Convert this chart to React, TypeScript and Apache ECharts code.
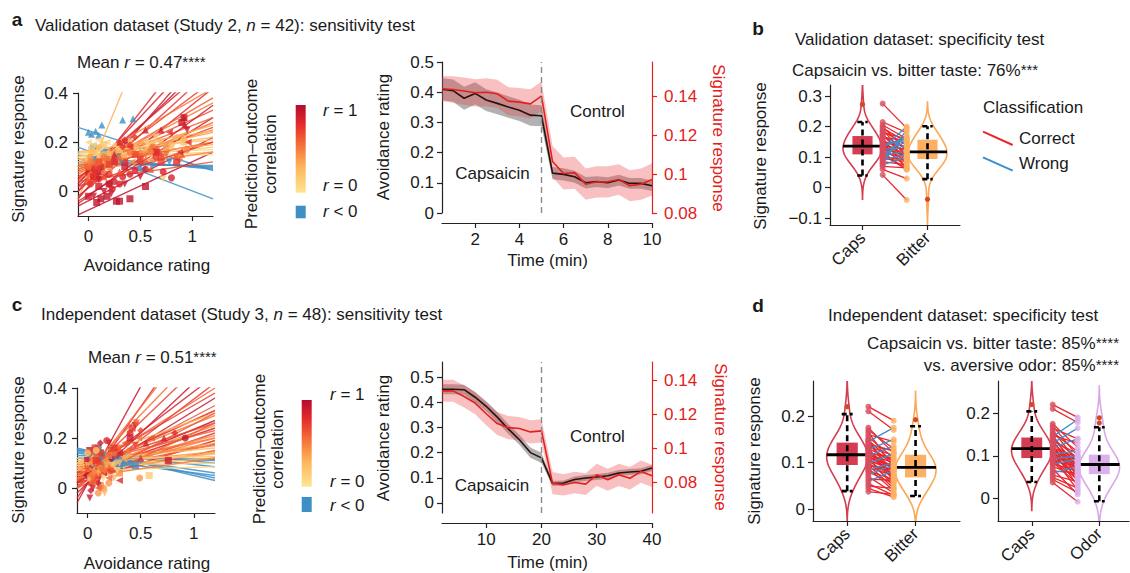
import React, { useEffect, useRef } from "react";
import * as echarts from "echarts";

const FONT = '"Liberation Sans", Arial, Helvetica, sans-serif';
const INK = "#1a1a1a";
const RED = "#e3211c";
const NEG_BLUE = "#3d8fc6";

// Subject fits, Study 2: [r, y at x = -0.1, y at x = 1.2]
const linesA: number[][] = [
  [-0.3, 0.26, 0.085], [-0.35, 0.18, -0.03], [-0.1, 0.13, 0.095], [-0.05, 0.12, 0.1],
  [-0.15, 0.145, 0.09], [-0.08, 0.11, 0.105], [0.3, -0.033, 1.3], [0.95, -0.095, 0.16],
  [0.9, -0.06, 0.22], [0.85, -0.04, 0.3], [0.8, -0.02, 0.42], [0.75, 0.0, 0.5],
  [0.9, 0.02, 0.55], [0.7, 0.04, 0.45], [0.6, 0.06, 0.38], [0.55, 0.05, 0.28],
  [0.65, 0.08, 0.33], [0.45, 0.09, 0.25], [0.3, 0.1, 0.2], [0.2, 0.12, 0.18],
  [0.15, 0.13, 0.16], [0.25, 0.14, 0.22], [0.35, 0.11, 0.27], [0.5, 0.07, 0.36],
  [0.85, 0.03, 0.62], [0.8, 0.0, 0.7], [0.9, -0.03, 0.6], [0.4, 0.12, 0.24],
  [0.1, 0.15, 0.17], [0.05, 0.14, 0.15], [0.6, 0.09, 0.3], [0.7, 0.06, 0.26],
  [0.55, 0.1, 0.2], [0.75, 0.02, 0.2], [0.45, 0.08, 0.16], [0.35, 0.13, 0.19],
  [0.65, 0.04, 0.12], [0.9, -0.05, 0.35], [0.2, 0.155, 0.21], [0.5, 0.1, 0.42],
  [0.8, 0.05, 0.52], [0.3, 0.16, 0.245],
];

// Single trials, Study 2: [avoidance rating, signature response, subject]
const pointsA: number[][] = [
  [0.0, 0.24, 0], [0.03, 0.232, 0], [0.07, 0.245, 0], [0.1, 0.228, 0], [0.13, 0.27, 0], [0.33, 0.29, 0], [0.43, 0.295, 0],
  [0.05, 0.13, 2], [0.15, 0.14, 2], [0.22, 0.12, 2], [0.5, 0.11, 2], [0.62, 0.1, 2], [0.78, 0.12, 2],
  [0.02, 0.1, 4], [0.1, 0.09, 4], [0.3, 0.12, 4], [0.52, 0.09, 4], [0.48, 0.095, 4],
  [0.05, 0.18, 1], [0.15, 0.16, 1], [0.28, 0.14, 1],
  [0.0, 0.2, 28], [0.05, 0.19, 28], [0.1, 0.21, 28], [0.18, 0.2, 28], [0.25, 0.19, 28], [0.55, 0.2, 28],
  [0.02, 0.15, 29], [0.08, 0.16, 29], [0.12, 0.175, 29], [0.4, 0.16, 29],
  [0.0, 0.12, 20], [0.1, 0.14, 20], [0.2, 0.15, 20], [0.6, 0.18, 20], [0.72, 0.05, 20],
  [0.03, 0.17, 19], [0.15, 0.19, 19], [0.3, 0.17, 19], [0.62, 0.19, 19], [0.92, 0.2, 19],
  [0.0, 0.11, 18], [0.08, 0.12, 18], [0.2, 0.13, 18], [0.35, 0.15, 18], [0.55, 0.17, 18],
  [0.05, 0.16, 21], [0.15, 0.15, 21], [0.45, 0.18, 21], [0.8, 0.19, 21], [0.92, 0.21, 21],
  [0.0, 0.08, 22], [0.12, 0.1, 22], [0.3, 0.14, 22], [0.5, 0.2, 22],
  [0.02, 0.14, 27], [0.25, 0.16, 27], [0.6, 0.17, 27], [0.75, 0.18, 27],
  [0.1, 0.17, 38], [0.4, 0.2, 38], [0.65, 0.22, 38],
  [0.1, 0.18, 41], [0.3, 0.2, 41], [0.7, 0.2, 41], [0.85, 0.22, 41],
  [0.0, 0.06, 17], [0.15, 0.11, 17], [0.28, 0.12, 17], [0.5, 0.16, 17],
  [0.05, 0.07, 34], [0.2, 0.09, 34], [0.42, 0.12, 34], [0.6, 0.13, 34],
  [0.05, 0.1, 6], [0.12, 0.13, 6], [0.2, 0.15, 6],
  [0.08, -0.045, 7], [0.12, -0.03, 7], [0.18, -0.02, 7], [0.27, -0.04, 7], [0.3, -0.04, 7], [0.4, -0.03, 7], [0.55, 0.02, 7],
  [0.05, -0.02, 8], [0.15, 0.0, 8], [0.22, -0.01, 8], [0.35, 0.03, 8], [0.5, 0.06, 8],
  [0.2, 0.03, 9], [0.25, 0.04, 9], [0.3, 0.03, 9], [0.33, 0.06, 9], [0.4, 0.07, 9], [0.45, 0.085, 9], [0.55, 0.09, 9], [0.72, 0.08, 9], [0.8, 0.055, 9], [0.23, 0.01, 9],
  [0.0, 0.04, 36], [0.05, 0.05, 36], [0.15, 0.06, 36], [0.3, 0.08, 36], [0.6, 0.09, 36],
  [0.02, 0.03, 33], [0.1, 0.05, 33], [0.2, 0.07, 33], [0.5, 0.12, 33], [0.65, 0.14, 33],
  [0.0, -0.02, 37], [0.1, 0.02, 37], [0.2, 0.03, 37], [0.35, 0.1, 37], [0.9, 0.28, 37], [0.92, 0.3, 37],
  [0.0, 0.09, 12], [0.05, 0.1, 12], [0.1, 0.08, 12], [0.3, 0.2, 12], [0.7, 0.25, 12], [0.92, 0.3, 12],
  [0.0, 0.08, 24], [0.12, 0.09, 24], [0.25, 0.15, 24], [0.55, 0.25, 24], [0.93, 0.27, 24],
  [0.03, 0.06, 26], [0.1, 0.05, 26], [0.35, 0.2, 26], [0.95, 0.25, 26],
  [0.02, 0.09, 10], [0.15, 0.07, 10], [0.4, 0.18, 10], [0.78, 0.24, 10], [0.96, 0.2, 10],
  [0.3, 0.2, 11], [0.35, 0.21, 11], [0.4, 0.19, 11], [0.33, 0.18, 11], [0.45, 0.22, 11],
  [0.0, 0.1, 13], [0.1, 0.12, 13], [0.45, 0.15, 13], [0.66, 0.16, 13], [0.7, 0.14, 13],
  [0.05, 0.11, 14], [0.18, 0.13, 14], [0.5, 0.14, 14], [0.75, 0.15, 14], [0.85, 0.14, 14],
  [0.0, 0.1, 15], [0.2, 0.12, 15], [0.4, 0.16, 15], [0.62, 0.18, 15],
  [0.1, 0.11, 16], [0.25, 0.13, 16], [0.45, 0.15, 16], [0.68, 0.15, 16],
  [0.02, 0.07, 23], [0.15, 0.08, 23], [0.55, 0.15, 23], [0.88, 0.13, 23],
  [0.05, 0.06, 25], [0.25, 0.12, 25], [0.65, 0.16, 25], [0.85, 0.12, 25],
  [0.1, 0.12, 30], [0.3, 0.14, 30], [0.55, 0.13, 30], [0.9, 0.15, 30],
  [0.08, 0.09, 31], [0.2, 0.11, 31], [0.5, 0.13, 31], [0.7, 0.12, 31],
  [0.02, 0.12, 39], [0.15, 0.14, 39], [0.6, 0.16, 39], [0.95, 0.17, 39],
  [0.06, 0.08, 40], [0.12, 0.1, 40], [0.35, 0.12, 40], [0.88, 0.16, 40],
];

// Subject fits, Study 3: [r, y at x = -0.1, y at x = 1.2]
const linesC: number[][] = [
  [-0.2, 0.15, 0.1], [-0.3, 0.14, 0.06], [-0.4, 0.16, 0.03], [-0.1, 0.13, 0.11],
  [-0.25, 0.12, 0.05], [-0.15, 0.145, 0.085], [-0.05, 0.12, 0.115], [-0.35, 0.155, 0.04],
  [0.9, -0.06, 0.95], [0.8, -0.04, 0.75], [0.55, 0.0, 0.7], [0.7, 0.02, 0.55],
  [0.85, 0.03, 0.45], [0.75, 0.0, 0.42], [0.6, 0.05, 0.4], [0.95, 0.02, 0.36],
  [0.65, 0.04, 0.33], [0.8, 0.06, 0.31], [0.5, 0.07, 0.29], [0.9, 0.04, 0.27],
  [0.7, 0.08, 0.26], [0.4, 0.06, 0.25], [0.85, 0.05, 0.24], [0.6, 0.09, 0.23],
  [0.75, 0.03, 0.22], [0.45, 0.07, 0.21], [0.3, 0.1, 0.3], [0.55, 0.08, 0.2],
  [0.8, 0.02, 0.19], [0.35, 0.09, 0.18], [0.65, 0.06, 0.175], [0.5, 0.1, 0.17],
  [0.25, 0.11, 0.16], [0.7, 0.04, 0.15], [0.4, 0.09, 0.145], [0.2, 0.1, 0.135],
  [0.3, 0.08, 0.12], [0.15, 0.09, 0.1], [0.1, 0.07, 0.085], [0.45, 0.05, 0.2],
  [0.6, 0.0, 0.26], [0.9, -0.02, 0.5], [0.55, 0.03, 0.6], [0.75, 0.06, 0.38],
  [0.35, 0.07, 0.14], [0.2, 0.12, 0.125], [0.65, 0.01, 0.3], [0.5, 0.04, 0.12],
];

// Single trials, Study 3: [avoidance rating, signature response, subject]
const pointsC: number[][] = [
  [0.03, 0.1, 0], [0.08, 0.12, 0], [0.15, 0.11, 0], [0.25, 0.12, 0], [0.35, 0.1, 0],
  [0.05, 0.13, 1], [0.12, 0.14, 1], [0.2, 0.11, 1], [0.3, 0.09, 1], [0.45, 0.09, 1],
  [0.02, 0.15, 2], [0.1, 0.13, 2], [0.18, 0.12, 2], [0.28, 0.13, 2],
  [0.06, 0.09, 3], [0.14, 0.1, 3], [0.22, 0.13, 3], [0.4, 0.1, 3],
  [0.0, 0.12, 4], [0.09, 0.11, 4], [0.16, 0.08, 4], [0.24, 0.1, 4],
  [0.04, 0.14, 5], [0.13, 0.12, 5], [0.3, 0.12, 5], [0.5, 0.11, 5],
  [0.07, 0.1, 6], [0.2, 0.14, 6], [0.33, 0.11, 6],
  [0.1, 0.16, 7], [0.17, 0.13, 7], [0.26, 0.11, 7],
  [0.02, -0.04, 8], [0.05, 0.0, 8], [0.1, 0.03, 8], [0.2, 0.18, 8], [0.45, 0.25, 8],
  [0.03, 0.02, 9], [0.08, 0.05, 9], [0.18, 0.19, 9], [0.4, 0.22, 9],
  [0.1, 0.08, 10], [0.15, 0.1, 10], [0.25, 0.16, 10], [0.48, 0.2, 10],
  [0.05, 0.06, 11], [0.12, 0.08, 11], [0.3, 0.15, 11], [0.5, 0.23, 11],
  [0.0, 0.1, 12], [0.06, 0.12, 12], [0.2, 0.14, 12], [0.55, 0.18, 12], [0.72, 0.2, 12],
  [0.02, 0.15, 13], [0.07, 0.16, 13], [0.12, 0.14, 13], [0.42, 0.24, 13],
  [0.04, 0.13, 14], [0.1, 0.15, 14], [0.3, 0.16, 14], [0.46, 0.26, 14],
  [0.0, 0.05, 15], [0.08, 0.07, 15], [0.22, 0.12, 15], [0.92, 0.2, 15],
  [0.05, 0.1, 16], [0.15, 0.12, 16], [0.35, 0.18, 16], [0.6, 0.2, 16],
  [0.02, 0.08, 17], [0.1, 0.11, 17], [0.28, 0.13, 17], [0.82, 0.22, 17],
  [0.08, 0.09, 18], [0.18, 0.1, 18], [0.38, 0.15, 18],
  [0.0, 0.11, 19], [0.12, 0.07, 19], [0.4, 0.2, 19], [0.76, 0.11, 19],
  [0.1, 0.13, 20], [0.22, 0.15, 20], [0.45, 0.17, 20],
  [0.1, -0.02, 21], [0.15, 0.0, 21], [0.2, 0.02, 21], [0.49, 0.04, 21],
  [0.05, 0.03, 25], [0.12, 0.01, 25], [0.3, 0.06, 25],
  [0.08, 0.05, 26], [0.16, -0.02, 26], [0.25, 0.04, 26],
  [0.02, 0.07, 29], [0.1, 0.09, 29], [0.2, 0.06, 29], [0.35, 0.12, 29],
  [0.0, 0.09, 32], [0.14, 0.05, 32], [0.3, 0.1, 32],
  [0.05, 0.12, 35], [0.18, 0.08, 35], [0.26, 0.1, 35],
  [0.03, 0.04, 37], [0.12, 0.06, 37], [0.22, 0.09, 37], [0.58, 0.05, 37],
  [0.07, 0.02, 38], [0.15, 0.04, 38], [0.28, 0.07, 38],
  [0.02, 0.06, 22], [0.1, 0.09, 22], [0.3, 0.14, 22],
  [0.04, 0.1, 23], [0.18, 0.12, 23],
  [0.06, 0.04, 24], [0.2, 0.08, 24], [0.5, 0.12, 24],
  [0.08, 0.12, 27], [0.25, 0.14, 27],
  [0.03, 0.05, 28], [0.15, 0.06, 28], [0.3, 0.03, 28],
  [0.0, 0.08, 30], [0.12, 0.1, 30],
  [0.05, 0.11, 31], [0.2, 0.13, 31],
  [0.1, 0.05, 33], [0.22, 0.07, 33],
  [0.02, 0.1, 34], [0.16, 0.11, 34],
  [0.06, 0.07, 36], [0.2, 0.1, 36],
  [0.04, 0.05, 39], [0.12, 0.08, 39],
  [0.1, 0.0, 40], [0.2, 0.04, 40],
  [0.03, -0.01, 41], [0.1, 0.02, 41], [0.12, 0.18, 41],
  [0.05, 0.04, 42], [0.2, 0.09, 42],
  [0.08, 0.11, 43], [0.25, 0.16, 43],
  [0.1, 0.06, 44], [0.18, 0.09, 44],
  [0.0, 0.14, 45], [0.08, 0.15, 45],
  [0.04, 0.02, 46], [0.14, 0.07, 46],
  [0.06, 0.06, 47], [0.16, 0.07, 47],
];

// Time courses, Study 2 (min)
const timeA = [0.5, 1, 1.5, 2, 2.5, 3, 3.5, 4, 4.5, 5, 5.5, 6, 6.5, 7, 7.5, 8, 8.5, 9, 9.5, 10];
const avoidA = [0.41, 0.405, 0.38, 0.396, 0.374, 0.363, 0.351, 0.34, 0.324, 0.322, 0.132, 0.128, 0.12, 0.1, 0.104, 0.1, 0.109, 0.098, 0.098, 0.09];
const avoidSeA = [0.037, 0.037, 0.038, 0.037, 0.036, 0.036, 0.036, 0.035, 0.035, 0.035, 0.02, 0.02, 0.02, 0.019, 0.018, 0.018, 0.018, 0.018, 0.018, 0.017];
const sigA = [0.1438, 0.1434, 0.1426, 0.1417, 0.142, 0.1412, 0.1374, 0.1369, 0.136, 0.14, 0.1064, 0.1003, 0.1007, 0.0948, 0.096, 0.096, 0.0972, 0.094, 0.0948, 0.0972];
const sigSeA = [0.0065, 0.0068, 0.007, 0.007, 0.0072, 0.0072, 0.0072, 0.0073, 0.0075, 0.0075, 0.008, 0.0082, 0.0082, 0.008, 0.008, 0.008, 0.0078, 0.008, 0.008, 0.0082];

// Time courses, Study 3 (min)
const timeC = [2, 4, 6, 8, 10, 12, 14, 16, 18, 20, 22, 24, 26, 28, 30, 32, 34, 36, 38, 40];
const avoidC = [0.452, 0.452, 0.45, 0.42, 0.384, 0.341, 0.294, 0.251, 0.2, 0.179, 0.077, 0.079, 0.093, 0.099, 0.103, 0.108, 0.119, 0.123, 0.126, 0.139];
const avoidSeC = [0.02, 0.02, 0.02, 0.02, 0.02, 0.02, 0.02, 0.02, 0.02, 0.02, 0.01, 0.01, 0.012, 0.012, 0.012, 0.012, 0.012, 0.012, 0.012, 0.012];
const sigC = [0.134, 0.134, 0.1307, 0.1268, 0.1205, 0.1147, 0.1123, 0.1118, 0.1098, 0.1104, 0.0796, 0.0786, 0.08, 0.079, 0.0845, 0.0816, 0.0845, 0.0825, 0.0864, 0.0839];
const sigSeC = [0.0065, 0.0065, 0.0065, 0.0066, 0.0068, 0.0068, 0.0068, 0.0068, 0.0068, 0.0068, 0.0065, 0.0063, 0.0063, 0.0064, 0.0065, 0.0065, 0.0066, 0.0066, 0.0066, 0.0066];

// Per-subject signature responses, Study 2
const capsB = [0.275, 0.215, 0.205, 0.2, 0.195, 0.19, 0.185, 0.18, 0.175, 0.17, 0.17, 0.165, 0.16, 0.155, 0.15, 0.148, 0.145, 0.14, 0.138, 0.135, 0.135, 0.132, 0.13, 0.128, 0.125, 0.12, 0.118, 0.115, 0.112, 0.11, 0.108, 0.105, 0.1, 0.098, 0.095, 0.09, 0.085, 0.08, 0.075, 0.07, 0.06, 0.042];
const bitterB = [0.195, 0.18, 0.16, 0.12, 0.15, 0.1, 0.14, 0.16, 0.09, 0.13, 0.11, 0.155, 0.06, 0.12, 0.1, 0.135, 0.08, 0.155, 0.125, 0.1, 0.165, 0.115, 0.07, 0.2, 0.11, 0.15, 0.095, 0.06, 0.14, 0.105, 0.06, 0.12, 0.09, 0.17, 0.085, 0.11, 0.075, 0.19, 0.1, 0.065, 0.03, -0.04];

// Per-subject signature responses, Study 3
const capsD = [0.22, 0.21, 0.175, 0.17, 0.165, 0.16, 0.155, 0.15, 0.148, 0.145, 0.143, 0.14, 0.138, 0.135, 0.132, 0.13, 0.128, 0.125, 0.122, 0.12, 0.118, 0.117, 0.116, 0.115, 0.113, 0.11, 0.108, 0.106, 0.104, 0.102, 0.1, 0.098, 0.096, 0.095, 0.093, 0.09, 0.088, 0.085, 0.082, 0.08, 0.075, 0.07, 0.065, 0.06, 0.055, 0.05, 0.045, 0.038];
const bitterD = [0.19, 0.17, 0.12, 0.13, 0.09, 0.145, 0.11, 0.065, 0.1, 0.175, 0.08, 0.125, 0.095, 0.115, 0.06, 0.105, 0.15, 0.085, 0.07, 0.11, 0.09, 0.1, 0.075, 0.135, 0.088, 0.05, 0.095, 0.082, 0.068, 0.092, 0.058, 0.12, 0.078, 0.045, 0.086, 0.072, 0.04, 0.1, 0.064, 0.055, 0.095, 0.035, 0.062, 0.083, 0.03, 0.045, 0.026, 0.032];
const odorD = [0.19, 0.178, 0.12, 0.1, 0.14, 0.085, 0.11, 0.06, 0.13, 0.185, 0.075, 0.095, 0.05, 0.105, 0.068, 0.165, 0.088, 0.04, 0.08, 0.14, 0.07, 0.098, 0.058, 0.082, 0.03, 0.09, 0.066, 0.078, 0.112, 0.05, 0.072, 0.02, 0.085, 0.062, 0.1, 0.045, 0.076, 0.035, 0.064, 0.093, 0.055, 0.01, 0.06, 0.075, 0.04, 0.025, 0.015, -0.007];

// Box summaries: [lower whisker, Q1, median, Q3, upper whisker]
const boxCapsB = [0.04, 0.109, 0.136, 0.169, 0.215];
const outCapsB = [0.273];
const boxBitterB = [0.028, 0.094, 0.117, 0.157, 0.201];
const outBitterB = [-0.038];
const boxCapsD = [0.039, 0.095, 0.117, 0.143, 0.204];
const outCapsD = [0.22];
const boxBitterD = [0.0285, 0.0685, 0.09, 0.117, 0.178];
const outBitterD = [0.192];
const boxOdorD = [-0.006, 0.0575, 0.08, 0.103, 0.167];
const outOdorD = [0.189, 0.177];

const CAPS_COLOR = "#d43d51";
const BITTER_COLOR = "#fdb063";
const ODOR_COLOR = "#dcb0ec";
const CORRECT = "#e8262c";
const WRONG = "#3b8fcf";

const R_STOPS: [number, string][] = [
  [0, "#fee593"], [0.3, "#fdb35a"], [0.55, "#f46d36"], [0.78, "#e52b2b"], [1, "#b40c2e"],
];
function hex(c: string) {
  return [1, 3, 5].map((i) => parseInt(c.slice(i, i + 2), 16));
}
function rColor(r: number) {
  if (r < 0) return NEG_BLUE;
  for (let i = 1; i < R_STOPS.length; i++) {
    const [p1, c1] = R_STOPS[i];
    const [p0, c0] = R_STOPS[i - 1];
    if (r <= p1) {
      const t = (r - p0) / (p1 - p0);
      const a = hex(c0), b = hex(c1);
      const m = a.map((v, k) => Math.round(v + (b[k] - v) * t));
      return `rgb(${m[0]},${m[1]},${m[2]})`;
    }
  }
  return R_STOPS[R_STOPS.length - 1][1];
}

const SHAPES = ["triangle", "rect", "triangleDown", "circle", "triangleLeft", "diamond"];

const fmt = (v: number) => String(parseFloat(v.toFixed(3))).replace("-", "\u2212");

function xAxis(grid: number, min: number, max: number, ticks: number[], extra: any = {}) {
  const { labels, rotate, margin, offset } = extra;
  return {
    type: "value", gridIndex: grid, min, max, offset: offset || 0,
    axisLine: { show: true, onZero: false, lineStyle: { color: "#222", width: 1.2 } },
    axisTick: { show: true, length: 5, customValues: ticks, lineStyle: { color: "#222", width: 1.2 } },
    axisLabel: {
      customValues: ticks, fontSize: 17, fontFamily: FONT, color: INK, margin: margin ?? 8,
      rotate: rotate || 0,
      formatter: labels ? (v: number) => labels[Math.round(v) - 1] : fmt,
    },
    splitLine: { show: false },
  };
}
function yAxis(grid: number, min: number, max: number, ticks: number[], extra: any = {}) {
  const color = extra.color || "#222";
  return {
    type: "value", gridIndex: grid, min, max, position: extra.position || "left",
    axisLine: { show: true, onZero: false, lineStyle: { color, width: 1.2 } },
    axisTick: { show: true, length: 5, customValues: ticks, lineStyle: { color, width: 1.2 } },
    axisLabel: {
      customValues: ticks, fontSize: 17, fontFamily: FONT, color: extra.color || INK,
      margin: extra.margin ?? 8, formatter: fmt,
    },
    splitLine: { show: false },
  };
}

function fitLines(lines: number[][], xi: number) {
  return lines.map(([r, yl, yr]) => ({
    type: "line", xAxisIndex: xi, yAxisIndex: xi === 0 ? 0 : 4, silent: true, clip: true,
    symbol: "none", z: 2,
    data: [[-0.1, yl], [1.2, yr]],
    lineStyle: { color: rColor(r), width: 1.4, opacity: 0.85 },
  }));
}

function trialPoints(points: number[][], lines: number[][], xi: number, yi: number) {
  return {
    type: "scatter", xAxisIndex: xi, yAxisIndex: yi, silent: true, z: 3, symbolSize: 7,
    data: points.map(([x, y, s]) => {
      const shape = SHAPES[s % SHAPES.length];
      let symbol = shape, rot = 0;
      if (shape === "triangleDown") { symbol = "triangle"; rot = 180; }
      if (shape === "triangleLeft") { symbol = "triangle"; rot = 90; }
      return { value: [x, y], symbol, symbolRotate: rot, itemStyle: { color: rColor(lines[s][0]) } };
    }),
  };
}

function band(xs: number[], mean: number[], se: number[], xi: number, yi: number, color: string, z: number) {
  return {
    type: "custom", xAxisIndex: xi, yAxisIndex: yi, silent: true, clip: true, z,
    data: xs.map((x, i) => [x, mean[i]]),
    renderItem: (params: any, api: any) => {
      if (params.dataIndex !== 0) return null;
      const up = xs.map((x, i) => api.coord([x, mean[i] + se[i]]));
      const dn = xs.map((x, i) => api.coord([x, mean[i] - se[i]])).reverse();
      return { type: "polygon", shape: { points: up.concat(dn) }, style: { fill: color } };
    },
  };
}

function meanLine(xs: number[], mean: number[], xi: number, yi: number, color: string, z: number, split?: number) {
  const s: any = {
    type: "line", xAxisIndex: xi, yAxisIndex: yi, silent: true, symbol: "none", z,
    data: xs.map((x, i) => [x, mean[i]]),
    lineStyle: { color, width: 1.6 },
  };
  if (split !== undefined) {
    s.markLine = {
      silent: true, symbol: ["none", "none"], label: { show: false },
      lineStyle: { type: [6, 4], color: "#8a8a8a", width: 1.4 },
      data: [{ xAxis: split }],
    };
  }
  return s;
}

// Gaussian kernel density of a sample, normalised to its peak
function density(values: number[]) {
  const n = values.length;
  const m = values.reduce((a, b) => a + b, 0) / n;
  const sd = Math.sqrt(values.reduce((a, b) => a + (b - m) * (b - m), 0) / (n - 1));
  const bw = 1.3 * 1.06 * sd * Math.pow(n, -0.2);
  const lo = Math.min(...values) - 2.6 * bw;
  const hi = Math.max(...values) + 2.6 * bw;
  const out: number[][] = [];
  for (let i = 0; i <= 90; i++) {
    const y = lo + ((hi - lo) * i) / 90;
    let d = 0;
    for (const v of values) d += Math.exp(-0.5 * ((y - v) / bw) ** 2);
    out.push([y, d]);
  }
  const peak = Math.max(...out.map((p) => p[1]));
  return out.map(([y, d]) => [y, d / peak]);
}

const VIOLIN_HALF = 0.3;
const BOX_HALF = 0.155;
const MEDIAN_HALF = 0.3;

function violin(values: number[], center: number, xi: number, yi: number, color: string) {
  const prof = density(values);
  return {
    type: "custom", xAxisIndex: xi, yAxisIndex: yi, silent: true, clip: true, z: 2,
    data: [[center, prof[0][0]]],
    renderItem: (_p: any, api: any) => {
      const right = prof.map(([y, w]) => api.coord([center + w * VIOLIN_HALF, y]));
      const left = prof.slice().reverse().map(([y, w]) => api.coord([center - w * VIOLIN_HALF, y]));
      return {
        type: "polygon", shape: { points: right.concat(left) },
        style: { fill: "rgba(255,255,255,0)", stroke: color, lineWidth: 1.6 },
      };
    },
  };
}

function boxPlot(stats: number[], outliers: number[], center: number, xi: number, yi: number, color: string) {
  const [wl, q1, med, q3, wh] = stats;
  return {
    type: "custom", xAxisIndex: xi, yAxisIndex: yi, silent: true, clip: false, z: 3,
    data: [[center, med]],
    renderItem: (_p: any, api: any) => {
      const tl = api.coord([center - BOX_HALF, q3]);
      const br = api.coord([center + BOX_HALF, q1]);
      const c = (x: number, y: number) => api.coord([x, y]);
      const seg = (a: number[], b: number[], style: any) => ({
        type: "line", shape: { x1: a[0], y1: a[1], x2: b[0], y2: b[1] }, style,
      });
      const dash = { stroke: "#000", lineWidth: 2.6, lineDash: [6, 4] };
      const children: any[] = [
        { type: "rect", shape: { x: tl[0], y: tl[1], width: br[0] - tl[0], height: br[1] - tl[1] }, style: { fill: color } },
        seg(c(center, wl), c(center, wh), dash),
        seg(c(center - 0.08, wl), c(center + 0.08, wl), { stroke: "#000", lineWidth: 2.6, lineDash: [5, 3] }),
        seg(c(center - 0.08, wh), c(center + 0.08, wh), { stroke: "#000", lineWidth: 2.6, lineDash: [5, 3] }),
        seg(c(center - MEDIAN_HALF, med), c(center + MEDIAN_HALF, med), { stroke: "#000", lineWidth: 2.8 }),
      ];
      for (const o of outliers) {
        const p = c(center, o);
        children.push({ type: "circle", shape: { cx: p[0], cy: p[1], r: 2.6 }, style: { fill: "#cf4a2a" } });
      }
      return { type: "group", children };
    },
  };
}

const X_LEFT = 1.31;
const X_RIGHT = 1.68;

function pairs(a: number[], b: number[], xi: number, yi: number, dotB: string) {
  const idx = a.map((_, i) => i).sort((i, j) => Number(a[i] < b[i]) - Number(a[j] < b[j]));
  return [
    {
      type: "custom", xAxisIndex: xi, yAxisIndex: yi, silent: true, clip: false, z: 4,
      data: idx.map((i) => [a[i], b[i]]),
      renderItem: (_p: any, api: any) => {
        const va = api.value(0), vb = api.value(1);
        const p1 = api.coord([X_LEFT, va]);
        const p2 = api.coord([X_RIGHT, vb]);
        return {
          type: "line", shape: { x1: p1[0], y1: p1[1], x2: p2[0], y2: p2[1] },
          style: { stroke: va > vb ? CORRECT : WRONG, lineWidth: 1.3 },
        };
      },
    },
    {
      type: "scatter", xAxisIndex: xi, yAxisIndex: yi, silent: true, z: 5, symbolSize: 6,
      itemStyle: { color: "#d94c5f" }, data: a.map((v) => [X_LEFT, v]),
    },
    {
      type: "scatter", xAxisIndex: xi, yAxisIndex: yi, silent: true, z: 5, symbolSize: 6,
      itemStyle: { color: dotB }, data: b.map((v) => [X_RIGHT, v]),
    },
  ];
}

const base = { fontFamily: FONT, fontSize: 17, fill: INK };
const rich = {
  i: { ...base, fontStyle: "italic" },
  s: { fontFamily: FONT, fontSize: 15, fill: INK, verticalAlign: "top", lineHeight: 13 },
};
function T(text: string, x: number, y: number, o: any = {}) {
  const align = o.align || "center";
  return {
    type: "text", x, y, rotation: o.rot || 0, z: 50, silent: true,
    style: {
      ...base, ...(o.style || {}), text, rich: o.rich || rich,
      align, verticalAlign: "middle", textAlign: align, textVerticalAlign: "middle",
    },
  };
}

function colorbar(x: number, y: number, h: number, by: number, bh: number) {
  return [
    {
      type: "rect", z: 40, silent: true, shape: { x, y, width: 10, height: h },
      style: {
        fill: new echarts.graphic.LinearGradient(0, 0, 0, 1,
          R_STOPS.slice().reverse().map(([p, c]) => ({ offset: 1 - p, color: c }))),
      },
    },
    { type: "rect", z: 40, silent: true, shape: { x, y: by, width: 10, height: bh }, style: { fill: NEG_BLUE } },
  ];
}

function buildOption() {
  const UP = Math.PI / 2;
  const bold = { style: { fontWeight: "bold", fontSize: 19 } };
  const graphic: any[] = [
    T("a", 17, 19, bold), T("b", 758, 28, bold), T("c", 17, 304, bold), T("d", 758, 305, bold),
    T("Validation dataset (Study 2, {i|n} = 42): sensitivity test", 35, 25, { align: "left" }),
    T("Independent dataset (Study 3, {i|n} = 48): sensitivity test", 41, 314, { align: "left" }),
    T("Mean {i|r} = 0.47{s|****}", 77, 62, { align: "left" }),
    T("Mean {i|r} = 0.51{s|****}", 88, 357, { align: "left" }),
    T("Signature response", 18, 149, { rot: UP }),
    T("Avoidance rating", 147, 265),
    T("Signature response", 18, 450, { rot: UP }),
    T("Avoidance rating", 147, 563),
    T("Prediction\u2013outcome", 251.5, 154, { rot: UP }),
    T("correlation", 270, 154, { rot: UP }),
    T("Prediction\u2013outcome", 259, 449, { rot: UP }),
    T("correlation", 277, 449, { rot: UP }),
    ...colorbar(295.7, 105, 87.7, 205.7, 12.6),
    ...colorbar(301.7, 400, 86.7, 497, 15),
    T("{i|r} = 1", 323, 110, { align: "left" }),
    T("{i|r} = 0", 323, 185, { align: "left" }),
    T("{i|r} < 0", 323, 211, { align: "left" }),
    T("{i|r} = 1", 330, 394, { align: "left" }),
    T("{i|r} = 0", 330, 481, { align: "left" }),
    T("{i|r} < 0", 330, 505, { align: "left" }),
    T("Avoidance rating", 383.5, 137, { rot: UP }),
    T("Signature response", 718.5, 138, { rot: -UP, style: { fill: RED } }),
    T("Time (min)", 547.5, 260),
    T("Capsaicin", 492.5, 173),
    T("Control", 597.5, 111),
    T("Avoidance rating", 383.5, 438, { rot: UP }),
    T("Signature response", 720, 437, { rot: -UP, style: { fill: RED } }),
    T("Time (min)", 547.5, 562),
    T("Capsaicin", 492, 485),
    T("Control", 597.5, 436),
    T("Validation dataset: specificity test", 795, 39, { align: "left" }),
    T("Capsaicin vs. bitter taste: 76%{s|***}", 792, 70, { align: "left" }),
    T("Signature response", 760, 156, { rot: UP }),
    T("Classification", 983, 107, { align: "left" }),
    T("Correct", 1019, 138, { align: "left" }),
    T("Wrong", 1019, 163, { align: "left" }),
    { type: "line", z: 40, silent: true, shape: { x1: 983, y1: 131.7, x2: 1012.7, y2: 145 }, style: { stroke: CORRECT, lineWidth: 2 } },
    { type: "line", z: 40, silent: true, shape: { x1: 983, y1: 157.3, x2: 1012.7, y2: 170.7 }, style: { stroke: WRONG, lineWidth: 2 } },
    T("Independent dataset: specificity test", 828, 315, { align: "left" }),
    T("Capsaicin vs. bitter taste: 85%{s|****}", 1119, 343, { align: "right" }),
    T("vs. aversive odor: 85%{s|****}", 1119, 365, { align: "right" }),
    T("Signature response", 754, 451, { rot: UP }),
  ];

  const grids = [
    { left: 78, top: 93, width: 135, height: 123 },
    { left: 442, top: 62, width: 210, height: 151 },
    { left: 830, top: 85, width: 130, height: 140 },
    { left: 77, top: 388, width: 138, height: 125 },
    { left: 442, top: 362, width: 210, height: 151 },
    { left: 813, top: 381, width: 147, height: 140 },
    { left: 998, top: 381, width: 131, height: 140 },
  ].map((g) => ({ ...g, outerBoundsMode: "none", containLabel: false }));

  const xAxes = [
    xAxis(0, -0.1, 1.2, [0, 0.5, 1], { margin: 12 }),
    xAxis(1, 0.5, 10, [2, 4, 6, 8, 10], { offset: 10 }),
    xAxis(2, 0.5, 2.5, [1, 2], { labels: ["Caps", "Bitter"], rotate: 45, margin: 10 }),
    xAxis(3, -0.1, 1.2, [0, 0.5, 1], { margin: 12 }),
    xAxis(4, 2, 40, [10, 20, 30, 40], { offset: 10 }),
    xAxis(5, 0.5, 2.65, [1, 2], { labels: ["Caps", "Bitter"], rotate: 45, margin: 10 }),
    xAxis(6, 0.5, 2.44, [1, 2], { labels: ["Caps", "Odor"], rotate: 45, margin: 10 }),
  ];
  const yAxes = [
    yAxis(0, -0.1, 0.4, [0, 0.2, 0.4], { margin: 10 }),
    yAxis(1, 0, 0.5, [0, 0.1, 0.2, 0.3, 0.4, 0.5]),
    yAxis(1, 0.08, 0.1575, [0.08, 0.1, 0.12, 0.14], { position: "right", color: RED, margin: 12 }),
    yAxis(2, -0.122, 0.336, [-0.1, 0, 0.1, 0.2, 0.3]),
    yAxis(3, -0.1, 0.4, [0, 0.2, 0.4], { margin: 10 }),
    yAxis(4, -0.04, 0.56, [0, 0.1, 0.2, 0.3, 0.4, 0.5]),
    yAxis(4, 0.062, 0.151, [0.08, 0.1, 0.12, 0.14], { position: "right", color: RED, margin: 12 }),
    yAxis(5, -0.025, 0.275, [0, 0.1, 0.2]),
    yAxis(6, -0.052, 0.275, [0, 0.1, 0.2]),
  ];

  const series: any[] = [
    ...fitLines(linesA, 0),
    trialPoints(pointsA, linesA, 0, 0),
    ...fitLines(linesC, 3),
    trialPoints(pointsC, linesC, 3, 4),

    band(timeA, avoidA, avoidSeA, 1, 1, "rgba(70,70,70,0.42)", 1),
    band(timeA, sigA, sigSeA, 1, 2, "rgba(235,70,70,0.34)", 2),
    meanLine(timeA, avoidA, 1, 1, "#2a1010", 3, 5),
    meanLine(timeA, sigA, 1, 2, RED, 4),

    band(timeC, avoidC, avoidSeC, 4, 5, "rgba(70,70,70,0.42)", 1),
    band(timeC, sigC, sigSeC, 4, 6, "rgba(235,70,70,0.34)", 2),
    meanLine(timeC, avoidC, 4, 5, "#2a1010", 3, 20),
    meanLine(timeC, sigC, 4, 6, RED, 4),

    violin(capsB, 1, 2, 3, CAPS_COLOR),
    violin(bitterB, 2, 2, 3, "#fca656"),
    boxPlot(boxCapsB, outCapsB, 1, 2, 3, CAPS_COLOR),
    boxPlot(boxBitterB, outBitterB, 2, 2, 3, BITTER_COLOR),
    ...pairs(capsB, bitterB, 2, 3, BITTER_COLOR),

    violin(capsD, 1, 5, 7, CAPS_COLOR),
    violin(bitterD, 2, 5, 7, "#fca656"),
    boxPlot(boxCapsD, outCapsD, 1, 5, 7, CAPS_COLOR),
    boxPlot(boxBitterD, outBitterD, 2, 5, 7, BITTER_COLOR),
    ...pairs(capsD, bitterD, 5, 7, BITTER_COLOR),

    violin(capsD, 1, 6, 8, CAPS_COLOR),
    violin(odorD, 2, 6, 8, "#d9a6ea"),
    boxPlot(boxCapsD, outCapsD, 1, 6, 8, CAPS_COLOR),
    boxPlot(boxOdorD, outOdorD, 2, 6, 8, ODOR_COLOR),
    ...pairs(capsD, odorD, 6, 8, ODOR_COLOR),
  ];

  return {
    animation: false,
    backgroundColor: "#ffffff",
    textStyle: { fontFamily: FONT },
    grid: grids,
    xAxis: xAxes,
    yAxis: yAxes,
    series,
    graphic,
  };
}

export default function App() {
  const ref = useRef<HTMLDivElement>(null);
  useEffect(() => {
    if (!ref.current) return;
    const chart = echarts.init(ref.current, null, { renderer: "svg" });
    chart.setOption(buildOption() as any);
    return () => chart.dispose();
  }, []);
  return (
    <div
      ref={ref}
      style={{ position: "absolute", left: 0, top: 0, width: 1130, height: 573, background: "#fff" }}
    />
  );
}
